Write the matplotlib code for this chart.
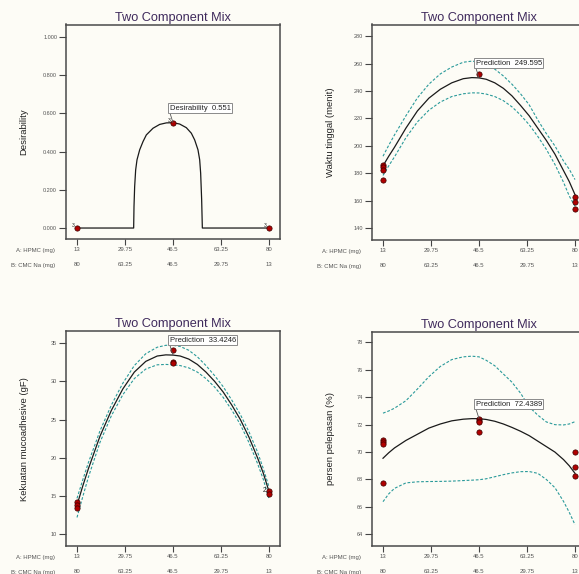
import matplotlib
matplotlib.use('Agg')
import matplotlib.pyplot as plt

plt.rcParams['font.family'] = ['Liberation Sans', 'DejaVu Sans']

# ---------------- data ----------------
title_text = 'Two Component Mix'
a_label = 'A: HPMC (mg)'
b_label = 'B: CMC Na (mg)'
a_ticks = [13, 29.75, 46.5, 63.25, 80]
a_ticklabels = ['13', '29.75', '46.5', '63.25', '80']
b_ticks = [80, 63.25, 46.5, 29.75, 13]
b_ticklabels = ['80', '63.25', '46.5', '29.75', '13']

# Panel 1: desirability
des_x = [13, 32.77, 32.89, 33.12, 33.47, 33.94, 34.87, 36.03, 37.19, 39.52, 41.85,
         44.17, 46.5, 48.83, 51.15, 52.9, 54.06, 55.22, 55.81, 56.15, 56.5, 56.74, 80]
des_y = [0, 0, 0.113, 0.217, 0.304, 0.357, 0.409, 0.452, 0.487, 0.522, 0.542,
         0.550, 0.551, 0.544, 0.525, 0.496, 0.461, 0.409, 0.357, 0.287, 0.148, 0, 0]
des_pts_x = [13, 46.5, 80]
des_pts_y = [0, 0.551, 0]
des_counts = ['3', '3', '3']
des_pred = 0.551

# common mixture grid (A: HPMC, mg)
grid_x = [13, 15, 17, 21, 25, 29, 33, 37, 41, 44, 46.5, 49, 52, 55, 58, 61, 64, 67, 70, 73, 76, 78, 80]

# Panel 2: Waktu tinggal (menit)
wt_fit = [185.5, 192.5, 199, 213, 225.5, 234.8, 241.3, 246, 249, 249.8, 249.6, 248.6, 246, 242,
          236.5, 229.5, 222, 213, 204, 194, 182, 174, 164.5]
wt_up = [192.5, 200.5, 208, 222, 235, 245, 252.5, 257.5, 261, 261.8, 261.3, 259.5, 256, 251,
         245, 238, 230, 219, 209, 200, 189, 183, 175.5]
wt_lo = [178.5, 185.5, 192, 206, 217.5, 226, 232, 236, 238, 238.7, 238.6, 237.8, 236, 233,
         228.5, 222.5, 215.5, 207, 197.5, 186.5, 173.5, 163.5, 156]
wt_pts_x = [13, 13, 13, 13, 46.5, 80, 80, 80]
wt_pts_y = [186.0, 184.5, 182.4, 175.3, 252.2, 163.0, 159.3, 154.4]
wt_pred = 249.595

# Panel 3: Kekuatan mucoadhesive (gF)
km_fit = [13.8, 16.3, 18.6, 22.8, 26.2, 29.0, 31.2, 32.6, 33.3, 33.45, 33.42, 33.3, 32.9, 32.2,
          31.2, 30.0, 28.6, 26.9, 25.0, 22.7, 20.0, 18.0, 15.6]
km_up = [14.7, 17.1, 19.4, 23.5, 26.9, 29.75, 32.05, 33.6, 34.45, 34.7, 34.7, 34.55, 34.05, 33.2,
         32.05, 30.75, 29.3, 27.55, 25.65, 23.4, 20.75, 18.6, 16.2]
km_lo = [12.2, 14.9, 17.5, 22.0, 25.5, 28.25, 30.35, 31.6, 32.15, 32.2, 32.15, 32.05, 31.75, 31.2,
         30.35, 29.25, 27.9, 26.25, 24.35, 22.0, 19.25, 17.2, 14.6]
km_pts_x = [13, 13, 13, 46.5, 46.5, 46.5, 80, 80]
km_pts_y = [14.2, 13.8, 13.4, 34.1, 32.5, 32.4, 15.6, 15.3]
km_pred = 33.4246

# Panel 4: persen pelepasan (%)
pp_fit = [69.55, 69.95, 70.3, 70.85, 71.3, 71.75, 72.05, 72.28, 72.4, 72.44, 72.44, 72.38, 72.25,
          72.05, 71.8, 71.52, 71.2, 70.8, 70.4, 70.0, 69.45, 69.0, 68.45]
pp_up = [72.84, 73.0, 73.2, 73.75, 74.6, 75.5, 76.25, 76.75, 76.95, 77.0, 76.95, 76.7, 76.3,
         75.7, 75.1, 74.3, 73.3, 72.7, 72.2, 72.0, 71.98, 72.05, 72.22]
pp_lo = [66.38, 66.95, 67.35, 67.75, 67.83, 67.85, 67.86, 67.88, 67.92, 67.95, 67.98, 68.05, 68.2,
         68.35, 68.48, 68.57, 68.58, 68.45, 68.0, 67.4, 66.4, 65.6, 64.7]
pp_pts_x = [13, 13, 13, 13, 46.5, 46.5, 46.5, 46.5, 80, 80, 80]
pp_pts_y = [70.9, 70.75, 70.6, 67.77, 72.4, 72.3, 72.2, 71.45, 70.0, 68.9, 68.27]
pp_pred = 72.4389

# ---------------- style ----------------
bg = '#fdfcf6'
title_color = '#3f2a5c'
fit_color = '#1a1a1a'
ci_color = '#2a9a9a'
pt_face = '#b00000'
pt_edge = '#3a0000'

fig = plt.figure(figsize=(5.79, 5.74), dpi=100, facecolor=bg)

W, H = 579.0, 574.0
def add_axes(left_px, top_px, w_px, h_px):
    return fig.add_axes([left_px / W, (H - top_px - h_px) / H, w_px / W, h_px / H])

ax1 = add_axes(66, 24.5, 214, 214.5)
ax2 = add_axes(372, 24.5, 214, 215.5)
ax3 = add_axes(66, 331.3, 214, 214.7)
ax4 = add_axes(372, 331.5, 214, 214.5)


def setup(ax, ylabel, yticks, yticklabels, ylim):
    ax.set_facecolor(bg)
    ax.set_xlim(9.16, 83.84)
    ax.set_ylim(*ylim)
    for s in ax.spines.values():
        s.set_color('#4a4a4a')
        s.set_linewidth(1.1)
    ax.set_xticks(a_ticks, labels=a_ticklabels)
    ax.set_yticks(yticks, labels=yticklabels)
    ax.tick_params(axis='y', direction='out', length=5, width=0.8, pad=1.4,
                   labelsize=4, colors='#444444', labelcolor='#555555')
    ax.tick_params(axis='x', direction='out', length=4.3, width=0.8, pad=1.3,
                   labelsize=4.3, colors='#444444', labelcolor='#555555')
    sec = ax.secondary_xaxis(-0.098, functions=(lambda a: 93 - a, lambda b: 93 - b))
    sec.set_xticks(b_ticks, labels=b_ticklabels)
    sec.tick_params(length=0, pad=1.2, labelsize=4.3, labelcolor='#555555')
    for s in sec.spines.values():
        s.set_visible(False)
    ax.set_title(title_text, fontsize=9.2, color=title_color, pad=2.8)
    ax.set_ylabel(ylabel, fontsize=6.8, color='#222222')
    ax.yaxis.set_label_coords(-0.175, 0.5)
    ax.text(-0.05, -0.0514, a_label, transform=ax.transAxes, ha='right', va='center',
            fontsize=4.3, color='#555555')
    ax.text(-0.05, -0.1215, b_label, transform=ax.transAxes, ha='right', va='center',
            fontsize=4.3, color='#555555')


def annotate(ax, label, xval, yval):
    ax.annotate(label, xy=(xval, yval), xytext=(-2.5, 8), textcoords='offset points',
                ha='left', va='bottom', fontsize=5.5, color='#222222', zorder=6,
                bbox=dict(boxstyle='square,pad=0.2', fc='white', ec='#8a8a8a', lw=0.7),
                arrowprops=dict(arrowstyle='-', color='#555555', lw=0.6, relpos=(0, 0),
                                shrinkA=0, shrinkB=0))


def points(ax, xs, ys):
    ax.plot(xs, ys, linestyle='none', marker='o', markersize=3.8, mfc=pt_face,
            mec=pt_edge, mew=0.5, zorder=4, clip_on=False)


# Panel 1
setup(ax1, 'Desirability', [0, 0.2, 0.4, 0.6, 0.8, 1.0],
      ['0.000', '0.200', '0.400', '0.600', '0.800', '1.000'], (-0.0574, 1.0647))
ax1.plot(des_x, des_y, color=fit_color, lw=0.9, zorder=3)
points(ax1, des_pts_x, des_pts_y)
for xv, yv, c in zip(des_pts_x, des_pts_y, des_counts):
    ax1.annotate(c, xy=(xv, yv), xytext=(-3, 1.5), textcoords='offset points',
                 ha='center', va='center', fontsize=3.6, color='#222222')
annotate(ax1, 'Desirability  0.551', 46.5, des_pred)


def response_panel(ax, ylabel, yticks, ylim, fit, up, lo, px, py, pred, label):
    setup(ax, ylabel, yticks, [str(t) for t in yticks], ylim)
    ax.plot(grid_x, up, color=ci_color, lw=0.8, dashes=(2.5, 1.6), zorder=2)
    ax.plot(grid_x, lo, color=ci_color, lw=0.8, dashes=(2.5, 1.6), zorder=2)
    ax.plot(grid_x, fit, color=fit_color, lw=0.9, zorder=3)
    points(ax, px, py)
    annotate(ax, label, 46.5, pred)


response_panel(ax2, 'Waktu tinggal (menit)', [140, 160, 180, 200, 220, 240, 260, 280],
               (131.45, 288.5), wt_fit, wt_up, wt_lo, wt_pts_x, wt_pts_y, wt_pred,
               'Prediction  249.595')
response_panel(ax3, 'Kekuatan mucoadhesive (gF)', [10, 15, 20, 25, 30, 35],
               (8.47, 36.53), km_fit, km_up, km_lo, km_pts_x, km_pts_y, km_pred,
               'Prediction  33.4246')
ax3.annotate('2', xy=(80, 15.6), xytext=(-3, 0.5), textcoords='offset points',
             ha='center', va='center', fontsize=4.8, color='#222222')
response_panel(ax4, 'persen pelepasan (%)', [64, 66, 68, 70, 72, 74, 76, 78],
               (63.145, 78.8), pp_fit, pp_up, pp_lo, pp_pts_x, pp_pts_y, pp_pred,
               'Prediction  72.4389')

fig.savefig('out.png', dpi=100, facecolor=bg)
